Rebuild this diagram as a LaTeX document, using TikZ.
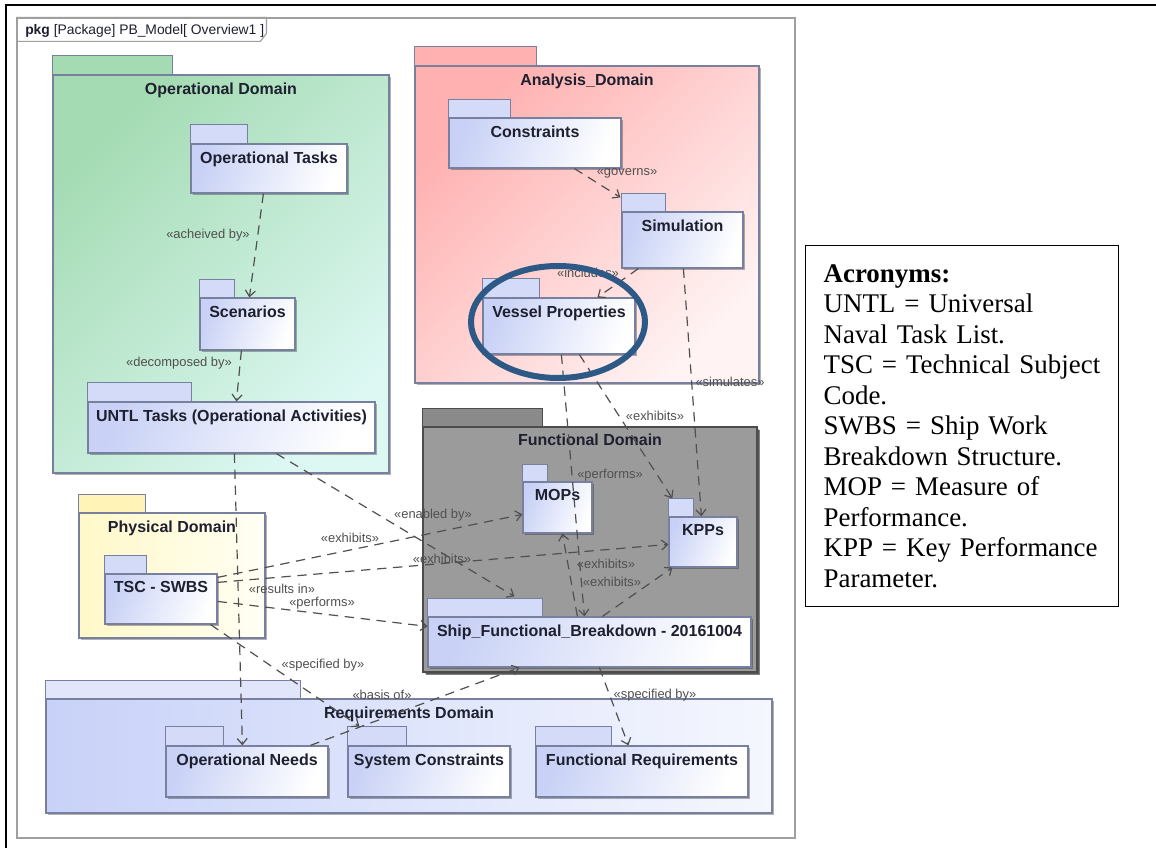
\documentclass[tikz,border=0pt]{standalone}
\usepackage{fontspec}
\setmainfont{Liberation Serif}
\newfontfamily\umlfont{Liberation Sans}
\usetikzlibrary{arrows.meta,calc,fit,shadows}

\definecolor{pkgline}{HTML}{7880A0}
\definecolor{namec}{HTML}{1E2030}
\definecolor{relc}{HTML}{505050}
\definecolor{opdark}{HTML}{A4DBB3}
\definecolor{oplight}{HTML}{DDF8F3}
\definecolor{andark}{HTML}{FFB0B0}
\definecolor{anlight}{HTML}{FFF3F3}
\definecolor{fngray}{HTML}{9B9B9B}
\definecolor{fntab}{HTML}{8A8A8A}
\definecolor{phdark}{HTML}{FFF8C8}
\definecolor{phlight}{HTML}{FFFFF4}
\definecolor{phtab}{HTML}{FFF3B8}
\definecolor{rqdark}{HTML}{C8D2F8}
\definecolor{rqlight}{HTML}{F5F7FE}
\definecolor{inndark}{HTML}{C9D2F6}
\definecolor{inntab}{HTML}{D4DBF8}
\definecolor{hilite}{HTML}{2D5987}

\tikzset{
  pkg/.style={draw=pkgline, line width=0.9pt, inner sep=0pt,
    drop shadow={shadow xshift=1.5pt, shadow yshift=-1.5pt, opacity=0.3, fill=black}},
  inner pkg/.style={pkg, left color=inndark, right color=white, shading angle=70},
  pkgtab/.style={draw=pkgline, line width=0.9pt},
  pkgname/.style={anchor=north, inner sep=0pt, label distance=-6pt, text=namec,
    font=\umlfont\bfseries\fontsize{12}{14}\selectfont},
  rel/.style={draw=relc, line width=0.9pt, dash pattern=on 7pt off 5pt,
    -{Straight Barb[length=4.5pt,width=7.5pt]}},
  rellabel/.style={inner sep=0pt, text=relc, font=\umlfont\fontsize{9.7}{11}\selectfont},
  acrbox/.style={draw=black, line width=0.9pt, anchor=north west, align=left,
    inner xsep=13.5pt, text width=207.75pt, minimum height=270.75pt,
    font=\fontsize{20.2}{22.9}\selectfont}
}

\begin{document}
\begin{tikzpicture}[x=0.75pt,y=0.75pt,yscale=-1,xscale=1]
\path[fill=white] (0,0) rectangle (1156,848);
\useasboundingbox (0,0) rectangle (1156,848);

% outer border
\draw[line width=1.5pt] (6,848) -- (6,5) -- (1156,5);

% diagram frame
\node[draw=gray!75, line width=0.9pt, inner sep=0pt, fit={(17,18) (795,838)}] (frame) {};
\draw[draw=gray!75, line width=0.9pt] (frame.north west) -- ++(250,0) -- ++(0,16) -- ++(-6,8) -- ++(-244,0);
\node[anchor=base west, inner sep=0pt, font=\umlfont\fontsize{10.4}{12}\selectfont, text=namec] (framelbl) at (25,35) {\textbf{pkg} [Package] PB\_Model[ Overview1 ]};

% Operational Domain
\node[pkg, top color=opdark, bottom color=oplight, shading angle=45, fit={(53,75) (389,473)}, label={[pkgname]north:Operational Domain}] (opd) {};
\draw[pkgtab, fill=opdark] (opd.north west) rectangle ++(120,-19);
\node[inner pkg, fit={(191,144) (347,193)}, label={[pkgname]north:Operational Tasks}] (ot) {};
\draw[pkgtab, fill=inntab] (ot.north west) rectangle ++(57,-19);
\node[inner pkg, fit={(200,298) (295,350)}, label={[pkgname]north:Scenarios}] (sc) {};
\draw[pkgtab, fill=inntab] (sc.north west) rectangle ++(35,-18);
\node[inner pkg, fit={(88,402) (375,453)}, label={[pkgname]north:UNTL Tasks (Operational Activities)}] (untl) {};
\draw[pkgtab, fill=inntab] (untl.north west) rectangle ++(104,-19);

% Analysis Domain
\node[pkg, top color=andark, bottom color=anlight, shading angle=45, fit={(415,66) (759,383)}, label={[pkgname]north:Analysis\_Domain}] (and) {};
\draw[pkgtab, fill=andark] (and.north west) rectangle ++(122,-19);
\node[inner pkg, fit={(449,118) (621,168)}, label={[pkgname]north:Constraints}] (con) {};
\draw[pkgtab, fill=inntab] (con.north west) rectangle ++(62,-18);
\node[inner pkg, fit={(622,212) (743,268)}, label={[pkgname]north:Simulation}] (sim) {};
\draw[pkgtab, fill=inntab] (sim.north west) rectangle ++(44,-18);
\node[inner pkg, fit={(483,298) (635,354)}, label={[pkgname]north:Vessel Properties}] (vp) {};
\draw[pkgtab, fill=inntab] (vp.north west) rectangle ++(57,-19);

% Functional Domain
\node[pkg, draw=gray!60!black, line width=1.3pt, fill=fngray, drop shadow={shadow xshift=2.5pt, shadow yshift=-2.5pt, opacity=0.5, fill=black}, fit={(423,427) (757,672)}, label={[pkgname]north:Functional Domain}] (fnd) {};
\draw[pkgtab, draw=gray!60!black, fill=fntab] (fnd.north west) rectangle ++(120,-18);
\node[inner pkg, fit={(523,482) (592,533)}, label={[pkgname]north:MOPs}] (mop) {};
\draw[pkgtab, fill=inntab] (mop.north west) rectangle ++(25,-17);
\node[inner pkg, fit={(669,517) (737,567)}, label={[pkgname]north:KPPs}] (kpp) {};
\draw[pkgtab, fill=inntab] (kpp.north west) rectangle ++(25,-18);
\node[inner pkg, fit={(428,617) (751,667)}, label={[pkgname]north:Ship\_Functional\_Breakdown - 20161004}] (sfb) {};
\draw[pkgtab, fill=inntab] (sfb.north west) rectangle ++(115,-18);

% Physical Domain
\node[pkg, left color=phdark, right color=phlight, fit={(79,513) (265,638)}, label={[pkgname]north:Physical Domain}] (phd) {};
\draw[pkgtab, fill=phtab] (phd.north west) rectangle ++(67,-18);
\node[inner pkg, fit={(105,574) (217,624)}, label={[pkgname]north:TSC - SWBS}] (tsc) {};
\draw[pkgtab, fill=inntab] (tsc.north west) rectangle ++(42,-18);

% Requirements Domain
\node[pkg, left color=rqdark, right color=rqlight, fit={(46,699) (772,813)}, label={[pkgname]north:Requirements Domain}] (rqd) {};
\draw[pkgtab, fill=inntab!70!white] (rqd.north west) rectangle ++(255,-18);
\node[inner pkg, fit={(166,746) (328,797)}, label={[pkgname]north:Operational Needs}] (opn) {};
\draw[pkgtab, fill=inntab] (opn.north west) rectangle ++(58,-19);
\node[inner pkg, fit={(348,746) (510,797)}, label={[pkgname]north:System Constraints}] (sysc) {};
\draw[pkgtab, fill=inntab] (sysc.north west) rectangle ++(59,-19);
\node[inner pkg, fit={(536,746) (748,797)}, label={[pkgname]north:Functional Requirements}] (freq) {};
\draw[pkgtab, fill=inntab] (freq.north west) rectangle ++(76,-19);

% relations
\draw[rel] ($(ot.south west)+(73,0)$) -- ($(sc.north west)+(50,0)$);
\draw[rel] ($(sc.south west)+(42,0)$) -- ($(untl.north west)+(149,0)$);
\draw[rel] ($(con.south west)+(126,0)$) -- ($(sim.north west)+(-1,-14)$);
\draw[rel] ($(sim.south west)+(17,0)$) -- ($(vp.north west)+(115,0)$);
\draw[rel] ($(sim.south west)+(62,0)$) -- ($(kpp.north west)+(33,0)$);
\draw[rel] ($(vp.south west)+(97,0)$) -- ($(kpp.north west)+(4,-18)$);
\draw[rel] ($(vp.south west)+(79,0)$) -- ($(sfb.north west)+(157,0)$);
\draw[rel] ($(sfb.north west)+(150,0)$) -- ($(mop.south west)+(40,0)$);
\draw[rel] ($(sfb.north west)+(175,0)$) -- ($(kpp.south west)+(4,0)$);
\draw[rel] ($(untl.south west)+(189,0)$) -- ($(sfb.north west)+(87,-20)$);
\draw[rel] ($(tsc.north east)+(0,4)$) -- ($(mop.north west)+(0,33)$);
\draw[rel] ($(tsc.north east)+(0,9)$) -- ($(kpp.north west)+(0,28)$);
\draw[rel] ($(tsc.north east)+(0,28)$) -- ($(sfb.north west)+(0,10)$);
\draw[rel] ($(untl.south west)+(147,0)$) -- ($(opn.north west)+(77,0)$);
\draw[rel] ($(tsc.south east)+(-7,0)$) -- ($(sysc.north west)+(12,-19)$);
\draw[rel] ($(opn.north west)+(145,0)$) -- ($(sfb.south west)+(92,0)$);
\draw[rel] ($(sfb.south west)+(172,0)$) -- ($(freq.north west)+(93,0)$);

% relation labels
\node[rellabel] (lachv) at (208,235) {«acheived by»};
\node[rellabel] (ldecomp) at (179,363) {«decomposed by»};
\node[rellabel] (lgov) at (627,173) {«governs»};
\node[rellabel] (lincl) at (588,273) {«includes»};
\node[rellabel] (lsimul) at (730,382) {«simulates»};
\node[rellabel] (lexvp) at (655,416) {«exhibits»};
\node[rellabel] (lperfvp) at (610,475) {«performs»};
\node[rellabel] (lexmop) at (606,564) {«exhibits»};
\node[rellabel] (lexkpp) at (612,582) {«exhibits»};
\node[rellabel] (lenabl) at (433,515) {«enabled by»};
\node[rellabel] (lextm) at (350,538) {«exhibits»};
\node[rellabel] (lextk) at (442,559) {«exhibits»};
\node[rellabel] (lresult) at (282,589) {«results in»};
\node[rellabel] (lperfts) at (322,603) {«performs»};
\node[rellabel] (lspects) at (323,665) {«specified by»};
\node[rellabel] (lbasis) at (382,695) {«basis of»};
\node[rellabel] (lspecfr) at (655,695) {«specified by»};

% highlight
\draw[hilite, line width=4.5pt] (558,322) ellipse [x radius=87, y radius=56];

% acronyms
\node[acrbox] (acr) at (805,245) {\textbf{Acronyms:}\\UNTL = Universal\\Naval Task List.\\TSC = Technical Subject\\Code.\\SWBS = Ship Work\\Breakdown Structure.\\MOP = Measure of\\Performance.\\KPP = Key Performance\\Parameter.};
\end{tikzpicture}
\end{document}
